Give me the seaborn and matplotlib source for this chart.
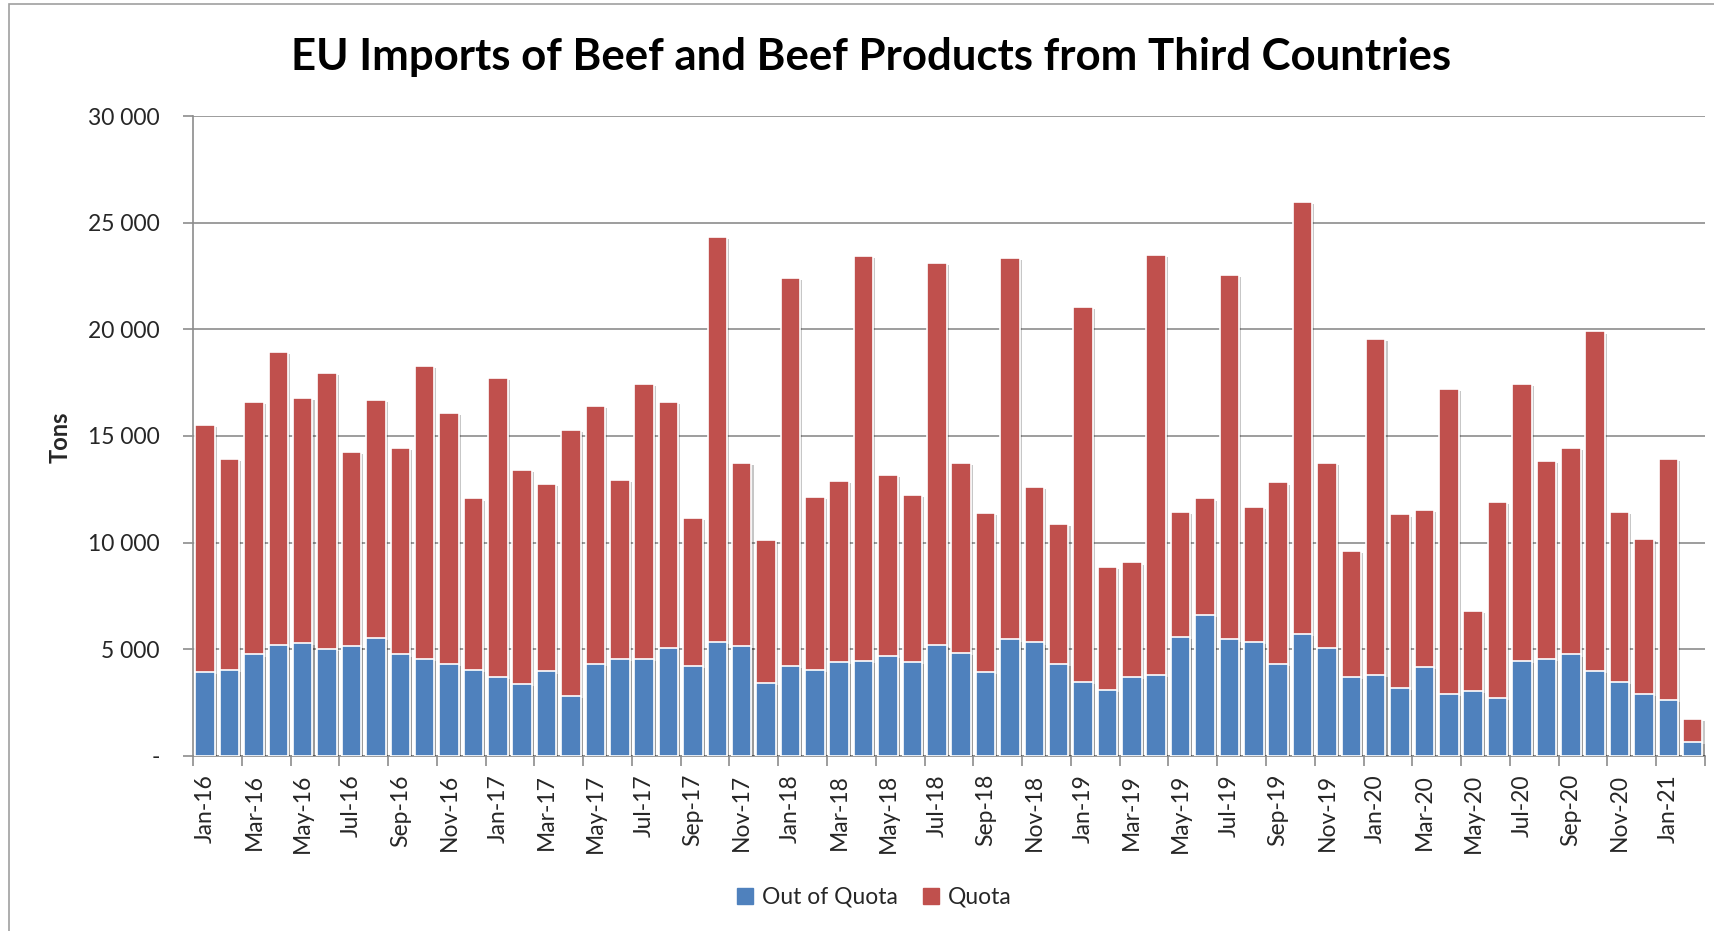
import pandas as pd
import seaborn as sns
import matplotlib.pyplot as plt
import matplotlib.patches as mpatches
import matplotlib.patheffects as pe
from matplotlib.ticker import FuncFormatter

# Monthly EU imports of beef, tons
months = list(pd.date_range('2016-01-01', '2021-02-01', freq='MS').strftime('%b-%y'))

out_of_quota = [3940, 4020, 4760, 5200, 5300, 5000, 5150, 5520, 4760, 4540, 4330, 4020,
                3700, 3370, 3960, 2830, 4310, 4540, 4540, 5060, 4240, 5350, 5150, 3430,
                4240, 4020, 4410, 4460, 4690, 4410, 5200, 4850, 3940, 5460, 5320, 4310,
                3480, 3110, 3700, 3800, 5590, 6630, 5460, 5350, 4310, 5740, 5070, 3700,
                3800, 3190, 4170, 2890, 3060, 2740, 4460, 4540, 4760, 4000, 3480, 2890,
                2640, 650]
quota = [11560, 9910, 11850, 13750, 11480, 12960, 9090, 11180, 9700, 13740, 11760, 8050,
         14040, 10040, 8780, 12450, 12080, 8420, 12910, 11550, 6930, 18970, 8570, 6700,
         18150, 8130, 8480, 18970, 8500, 7810, 17930, 8870, 7450, 17890, 7270, 6560,
         17560, 5740, 5370, 19700, 5870, 5440, 17080, 6340, 8510, 20230, 8650, 5910,
         15740, 8130, 7370, 14330, 3750, 9150, 12960, 9310, 9670, 15900, 7970, 7300,
         11270, 1080]

blue = '#4F81BD'
red = '#C0504D'
grey = '#8C8C8C'

df = pd.DataFrame({'month': months, 'out': out_of_quota, 'quota': quota})
df['total'] = df['out'] + df['quota']

sns.set_style('white')
plt.rcParams['font.family'] = ['Lato', 'DejaVu Sans']

fig = plt.figure(figsize=(17.14, 9.31), dpi=100)
ax = fig.add_axes([0.1126, 0.188, 0.8821, 0.6874])

# stacked bars: total first (red), out of quota on top of it (blue)
sns.barplot(data=df, x='month', y='total', color=red, saturation=1, width=0.8,
            edgecolor='white', linewidth=1.2, ax=ax, zorder=3)
sns.barplot(data=df, x='month', y='out', color=blue, saturation=1, width=0.8,
            edgecolor='white', linewidth=1.2, ax=ax, zorder=3)

for p in ax.patches:
    p.set_path_effects([pe.SimplePatchShadow(offset=(1.5, -1.5), shadow_rgbFace='black', alpha=0.22),
                        pe.Normal()])

ax.set_xlim(-0.5, len(months) - 0.5)
ax.set_ylim(0, 30000)
ax.set_yticks(range(0, 30001, 5000))
ax.yaxis.set_major_formatter(FuncFormatter(lambda v, _: '-' if v == 0 else f'{int(v):,}'.replace(',', ' ')))
ax.grid(axis='y', color=grey, linewidth=1.2, zorder=0)
ax.set_axisbelow(True)

ax.set_xticks(range(0, len(months), 2))
ax.set_xticklabels(months[::2], rotation=90)
ax.set_xticks([i - 0.5 for i in range(0, len(months) + 1, 2)], minor=True)
ax.tick_params(axis='x', which='major', length=0, pad=13, labelsize=16.5)
ax.tick_params(axis='x', which='minor', length=7, width=1.2, color=grey, direction='out')
ax.tick_params(axis='y', length=7, width=1.2, color=grey, direction='out', pad=17, labelsize=16.5)
ax.yaxis.set_ticks_position('left')
ax.xaxis.set_ticks_position('bottom')

ax.set_xlabel('')
ax.set_ylabel('')
for s in ['top', 'right']:
    ax.spines[s].set_visible(False)
for s in ['left', 'bottom']:
    ax.spines[s].set_color(grey)
    ax.spines[s].set_linewidth(1.2)

fig.text(0.508, 0.925, 'EU Imports of Beef and Beef Products from Third Countries',
         ha='center', va='baseline', fontsize=31.5, fontweight='bold', color='black')
fig.text(0.035, 0.53, 'Tons', rotation=90, ha='center', va='center',
         fontsize=17, fontweight='bold')

handles = [mpatches.Patch(color=blue, label='Out of Quota'),
           mpatches.Patch(color=red, label='Quota')]
fig.legend(handles=handles, loc='center', bbox_to_anchor=(0.51, 0.036), ncol=2,
           frameon=False, fontsize=16.5, handlelength=0.7, handleheight=0.7,
           handletextpad=0.4, columnspacing=1.1)

# thin chart-area border
fig.patches.append(mpatches.Rectangle((0.0053, -0.2), 1.2, 1.1957, transform=fig.transFigure,
                                      fill=False, edgecolor='#A0A0A0', linewidth=1.2))

fig.savefig('out.png', dpi=100)
